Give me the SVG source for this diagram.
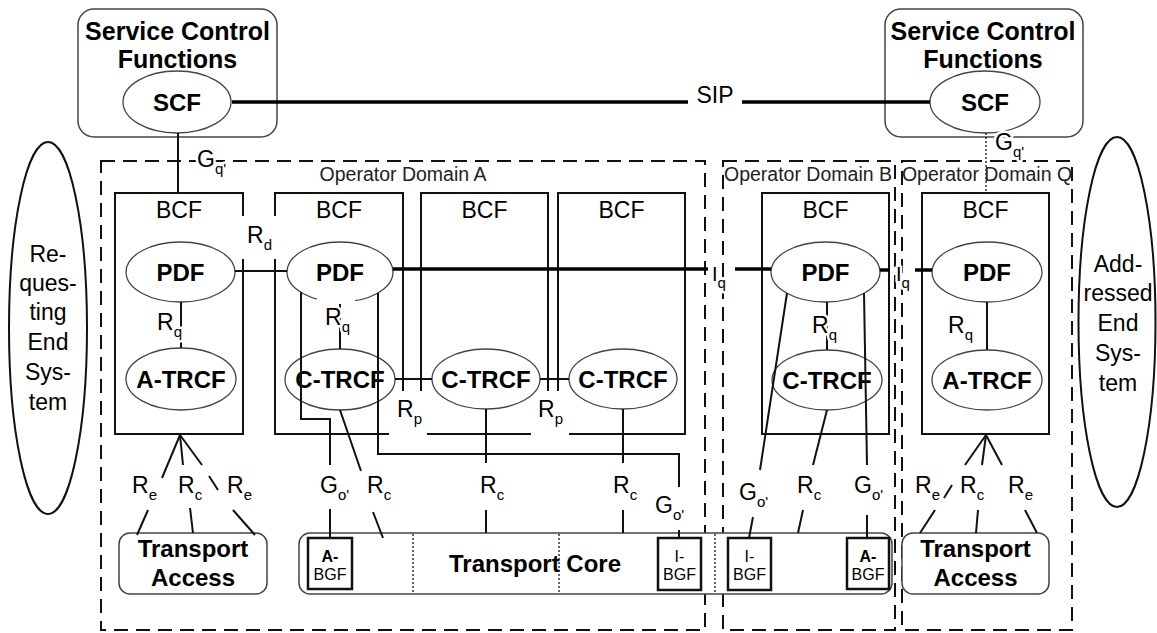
<svg xmlns="http://www.w3.org/2000/svg" width="1157" height="633" viewBox="0 0 1157 633">
<style>
text{font-family:"Liberation Sans",Arial,Helvetica,sans-serif;fill:#000}
.b{font-weight:bold}
.big{font-size:25px;font-weight:bold;text-anchor:middle}
.en{font-size:24px;font-weight:bold;text-anchor:middle}
.bcft{font-size:23px;text-anchor:middle}
.dt{font-size:19.5px;text-anchor:middle;fill:#222}
.es{font-size:23px;text-anchor:middle}
.lab{font-size:23px}
.halo{stroke:#fff;stroke-width:5;paint-order:stroke;stroke-linejoin:round}
.bgft{font-size:16px;text-anchor:middle}
.scfbox{fill:#fff;stroke:#444;stroke-width:1.5}
.ell{fill:#fff;stroke:#444;stroke-width:1.3}
.bigell{fill:#fff;stroke:#111;stroke-width:2}
.bcf{fill:none;stroke:#111;stroke-width:2}
.dom{fill:none;stroke:#111;stroke-width:2;stroke-dasharray:14 8}
.ln{stroke:#111;stroke-width:2;fill:none}
.thick{stroke:#000;stroke-width:3.5;fill:none}
.dot{stroke:#333;stroke-width:1.5;stroke-dasharray:2 2;fill:none}
.bgf{fill:#fff;stroke:#111;stroke-width:2.5}
.tbox{fill:#fff;stroke:#444;stroke-width:1.5}
.mask{fill:#fff;stroke:none}
</style>
<rect x="0" y="0" width="1157" height="633" fill="#fff"/>

<!-- Operator domains -->
<g id="domainA">
<rect class="dom" x="101" y="161" width="604" height="469"/>
<text class="dt" x="403" y="181">Operator Domain A</text>
</g>
<g id="domainB">
<rect class="dom" x="723" y="161" width="172" height="469"/>
<text class="dt" x="808" y="181">Operator Domain B</text>
</g>
<g id="domainQ">
<rect class="dom" x="902" y="161" width="170" height="469"/>
<text class="dt" x="987" y="181">Operator Domain Q</text>
</g>

<!-- End systems -->
<g id="requesting">
<ellipse class="bigell" cx="48" cy="328" rx="39" ry="186"/>
<text class="es" x="48" y="262">Re-</text>
<text class="es" x="48" y="291">ques-</text>
<text class="es" x="48" y="320">ting</text>
<text class="es" x="48" y="350">End</text>
<text class="es" x="48" y="380">Sys-</text>
<text class="es" x="48" y="410">tem</text>
</g>
<g id="addressed">
<ellipse class="bigell" cx="1117" cy="322" rx="38.5" ry="185"/>
<text class="es" x="1118" y="272">Add-</text>
<text class="es" x="1118" y="301">ressed</text>
<text class="es" x="1118" y="331">End</text>
<text class="es" x="1118" y="361">Sys-</text>
<text class="es" x="1118" y="391">tem</text>
</g>

<!-- Service control functions -->
<g id="scfA">
<rect class="scfbox" x="78" y="9" width="199" height="128" rx="16"/>
<text class="big" x="177.5" y="40">Service Control</text>
<text class="big" x="177.5" y="68">Functions</text>
<ellipse class="ell" cx="177" cy="102" rx="54" ry="31"/>
<text class="en" x="177" y="110.5">SCF</text>
</g>
<g id="scfB">
<rect class="scfbox" x="885" y="9" width="198" height="128" rx="16"/>
<text class="big" x="983" y="40">Service Control</text>
<text class="big" x="983" y="68">Functions</text>
<ellipse class="ell" cx="985" cy="102" rx="55" ry="31"/>
<text class="en" x="985" y="110.5">SCF</text>
</g>

<!-- BCF boxes -->
<g id="bcf1"><rect class="bcf" x="115" y="193" width="128" height="241"/><text class="bcft" x="179" y="218">BCF</text></g>
<g id="bcf2"><rect class="bcf" x="275" y="193" width="128" height="241"/><text class="bcft" x="339" y="218">BCF</text></g>
<g id="bcf3"><rect class="bcf" x="421" y="193" width="127" height="241"/><text class="bcft" x="484.5" y="218">BCF</text></g>
<g id="bcf4"><rect class="bcf" x="558" y="193" width="127" height="241"/><text class="bcft" x="621.5" y="218">BCF</text></g>
<g id="bcf5"><rect class="bcf" x="762" y="193" width="127" height="241"/><text class="bcft" x="825.5" y="218">BCF</text></g>
<g id="bcf6"><rect class="bcf" x="922" y="193" width="127" height="241"/><text class="bcft" x="985.5" y="218">BCF</text></g>

<!-- gaps in box edges behind labels -->
<rect class="mask" x="237" y="216" width="44" height="43"/>
<rect class="mask" x="389" y="391" width="38" height="49"/>
<rect class="mask" x="531" y="391" width="38" height="49"/>

<!-- functional entities -->
<g id="pdf1"><ellipse class="ell" cx="180.5" cy="272" rx="54.5" ry="30"/><text class="en" x="180.5" y="280.5">PDF</text></g>
<g id="pdf2"><ellipse class="ell" cx="340" cy="272" rx="53" ry="30"/><text class="en" x="340" y="280.5">PDF</text></g>
<g id="pdf5"><ellipse class="ell" cx="825.5" cy="272" rx="54.5" ry="30"/><text class="en" x="825.5" y="280.5">PDF</text></g>
<g id="pdf6"><ellipse class="ell" cx="987" cy="272" rx="55" ry="30"/><text class="en" x="987" y="280.5">PDF</text></g>
<g id="atrcf1"><ellipse class="ell" cx="181" cy="379" rx="55" ry="31"/><text class="en" x="181" y="387.5">A-TRCF</text></g>
<g id="ctrcf2"><ellipse class="ell" cx="340" cy="379.5" rx="55" ry="30.5"/><text class="en" x="340" y="388">C-TRCF</text></g>
<g id="ctrcf3"><ellipse class="ell" cx="486" cy="379" rx="54" ry="30"/><text class="en" x="486" y="387.5">C-TRCF</text></g>
<g id="ctrcf4"><ellipse class="ell" cx="623" cy="379" rx="54" ry="30"/><text class="en" x="623" y="387.5">C-TRCF</text></g>
<g id="ctrcf5"><ellipse class="ell" cx="827" cy="380" rx="55" ry="30"/><text class="en" x="827" y="388.5">C-TRCF</text></g>
<g id="atrcf6"><ellipse class="ell" cx="987" cy="380" rx="55" ry="30"/><text class="en" x="987" y="388.5">A-TRCF</text></g>

<!-- transport -->
<g id="taccessA">
<rect class="tbox" x="119" y="533" width="148" height="61" rx="11"/>
<text class="en" x="193" y="557">Transport</text>
<text class="en" x="193" y="586">Access</text>
</g>
<g id="tcore">
<rect class="tbox" x="299" y="533" width="593" height="61" rx="11"/>
<line class="dot" x1="413" y1="534" x2="413" y2="593"/>
<line class="dot" x1="559" y1="534" x2="559" y2="593"/>
<line class="dot" x1="715" y1="534" x2="715" y2="593"/>
<text class="en" x="535" y="572">Transport Core</text>
</g>
<g id="taccessQ">
<rect class="tbox" x="902" y="533" width="147" height="61" rx="11"/>
<text class="en" x="975.5" y="557">Transport</text>
<text class="en" x="975.5" y="586">Access</text>
</g>
<g id="abgf1"><rect class="bgf" x="308" y="538" width="44" height="51"/><text class="bgft b" x="330" y="562">A-</text><text class="bgft" x="330" y="580">BGF</text></g>
<g id="ibgfA"><rect class="bgf" x="658" y="538" width="43" height="52"/><text class="bgft" x="679.5" y="562">I-</text><text class="bgft" x="679.5" y="580">BGF</text></g>
<g id="ibgfB"><rect class="bgf" x="728" y="538" width="43" height="52"/><text class="bgft" x="749.5" y="562">I-</text><text class="bgft" x="749.5" y="580">BGF</text></g>
<g id="abgf2"><rect class="bgf" x="847" y="538" width="42" height="51"/><text class="bgft b" x="868" y="562">A-</text><text class="bgft" x="868" y="580">BGF</text></g>

<rect class="mask" x="317" y="296" width="38" height="8"/>

<!-- connectors -->
<g id="connectors">
<line class="ln" x1="178" y1="133" x2="178" y2="193"/>
<line class="dot" x1="986" y1="133" x2="986" y2="193"/>
<line class="thick" x1="232" y1="102" x2="688" y2="102"/>
<line class="thick" x1="742" y1="102" x2="930" y2="102"/>
<line class="ln" x1="235" y1="271" x2="287" y2="271"/>
<line class="thick" x1="393" y1="269" x2="708" y2="269"/>
<line class="thick" x1="735" y1="269" x2="771" y2="269"/>
<line class="thick" x1="880" y1="270" x2="890" y2="270"/>
<line class="thick" x1="915" y1="270" x2="932" y2="270"/>
<line class="ln" x1="181" y1="302" x2="181" y2="348"/>
<line class="ln" x1="340" y1="304" x2="340" y2="349"/>
<line class="ln" x1="827" y1="302" x2="827" y2="350"/>
<line class="ln" x1="987" y1="302" x2="987" y2="350"/>
<line class="ln" x1="395" y1="379" x2="432" y2="379"/>
<line class="ln" x1="540" y1="379" x2="569" y2="379"/>
<polyline class="ln" points="301,292 301,419 330,419 330,465"/>
<line class="ln" x1="330" y1="509" x2="330" y2="538"/>
<polyline class="ln" points="378,293 378,454 679,454 679,487"/>
<line class="ln" x1="679" y1="530" x2="679" y2="538"/>
<line class="ln" x1="340" y1="410" x2="361" y2="471"/>
<line class="ln" x1="373" y1="512" x2="383" y2="538"/>
<line class="ln" x1="486" y1="409" x2="486" y2="463"/>
<line class="ln" x1="486" y1="510" x2="486" y2="533"/>
<line class="ln" x1="623" y1="409" x2="623" y2="463"/>
<line class="ln" x1="623" y1="510" x2="623" y2="533"/>
<line class="ln" x1="787" y1="293" x2="760" y2="470"/>
<line class="ln" x1="753" y1="517" x2="749" y2="538"/>
<line class="ln" x1="827" y1="410" x2="813" y2="465"/>
<line class="ln" x1="803" y1="510" x2="798" y2="533"/>
<line class="ln" x1="864" y1="293" x2="867" y2="465"/>
<line class="ln" x1="867" y1="515" x2="867" y2="538"/>
<line class="ln" x1="180" y1="435" x2="162" y2="478"/>
<line class="ln" x1="148" y1="510" x2="137" y2="535"/>
<line class="ln" x1="180" y1="435" x2="183" y2="465"/>
<line class="ln" x1="190" y1="508" x2="193" y2="533"/>
<line class="ln" x1="180" y1="435" x2="202" y2="465"/>
<line class="ln" x1="209" y1="476" x2="218" y2="490"/>
<line class="ln" x1="233" y1="510" x2="255" y2="535"/>
<line class="ln" x1="986" y1="435" x2="965" y2="465"/>
<line class="ln" x1="952" y1="485" x2="944" y2="498"/>
<line class="ln" x1="935" y1="510" x2="920" y2="533"/>
<line class="ln" x1="986" y1="435" x2="982" y2="465"/>
<line class="ln" x1="978" y1="510" x2="976" y2="533"/>
<line class="ln" x1="986" y1="435" x2="1002" y2="465"/>
<line class="ln" x1="1025" y1="510" x2="1037" y2="533"/>

<!-- labels -->
<text class="dt" x="715" y="103" style="font-size:23px;fill:#000">SIP</text>
<text class="lab halo" x="197" y="167">G<tspan dy="7" font-size="15">q'</tspan></text>
<text class="lab halo" x="995" y="150">G<tspan dy="7" font-size="15">q'</tspan></text>
<text class="lab halo" x="247" y="243">R<tspan dy="7" font-size="15">d</tspan></text>
<text class="lab halo" x="157" y="330">R<tspan dy="7" font-size="15">q</tspan></text>
<text class="lab halo" x="325" y="325">R<tspan dy="7" font-size="15">q</tspan></text>
<text class="lab halo" x="812" y="333">R<tspan dy="7" font-size="15">q</tspan></text>
<text class="lab halo" x="948" y="333">R<tspan dy="7" font-size="15">q</tspan></text>
<text class="halo" x="712" y="281" font-size="20">I<tspan dy="7" font-size="15">q</tspan></text>
<text class="halo" x="896" y="281" font-size="20">I<tspan dy="7" font-size="15">q</tspan></text>
<text class="lab halo" x="397" y="417">R<tspan dy="7" font-size="15">p</tspan></text>
<text class="lab halo" x="538" y="417">R<tspan dy="7" font-size="15">p</tspan></text>
<text class="lab" x="132" y="493">R<tspan dy="7" font-size="15">e</tspan></text>
<text class="lab" x="178" y="493">R<tspan dy="7" font-size="15">c</tspan></text>
<text class="lab" x="227" y="493">R<tspan dy="7" font-size="15">e</tspan></text>
<text class="lab" x="320" y="493">G<tspan dy="7" font-size="15">o'</tspan></text>
<text class="lab" x="367" y="493">R<tspan dy="7" font-size="15">c</tspan></text>
<text class="lab" x="480" y="493">R<tspan dy="7" font-size="15">c</tspan></text>
<text class="lab" x="613" y="493">R<tspan dy="7" font-size="15">c</tspan></text>
<text class="lab" x="655" y="513">G<tspan dy="7" font-size="15">o'</tspan></text>
<text class="lab halo" x="739" y="500">G<tspan dy="7" font-size="15">o'</tspan></text>
<text class="lab" x="797" y="493">R<tspan dy="7" font-size="15">c</tspan></text>
<text class="lab halo" x="854" y="493">G<tspan dy="7" font-size="15">o'</tspan></text>
<text class="lab halo" x="915" y="493">R<tspan dy="7" font-size="15">e</tspan></text>
<text class="lab" x="960" y="493">R<tspan dy="7" font-size="15">c</tspan></text>
<text class="lab" x="1008" y="493">R<tspan dy="7" font-size="15">e</tspan></text>
</g>
</svg>
